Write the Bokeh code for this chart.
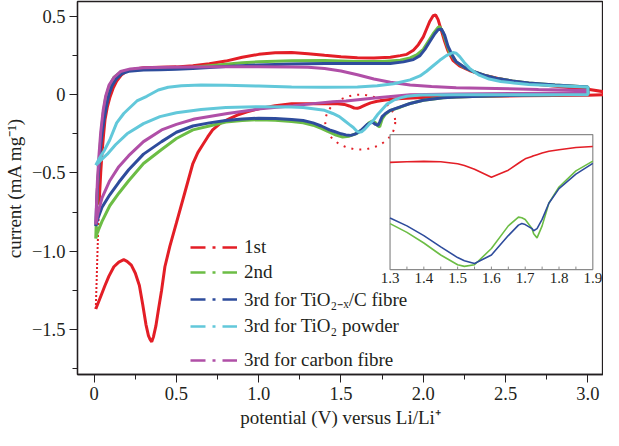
from bokeh.plotting import figure
from bokeh.models import (Range1d, SingleIntervalTicker, CustomJSTickFormatter,
                          Legend, LegendItem)
from bokeh.core.properties import value
from bokeh.embed import file_html
from bokeh.resources import INLINE

# ---------------- data (potential V, current mA mg^-1) ----------------
series_names = ["1st", "2nd", "3rd for TiO\u2082\u208b\u2093/C fibre",
                "3rd for TiO\u2082 powder", "3rd for carbon fibre"]

# 1st cycle
red_up_v = [0.03, 0.04, 0.048, 0.057, 0.066, 0.08, 0.095, 0.115, 0.137, 0.165, 0.196, 0.25, 0.3, 0.4,
            0.5, 0.6, 0.7, 0.8, 0.9, 1.0, 1.1, 1.2, 1.3, 1.4, 1.5, 1.6, 1.7, 1.8, 1.86, 1.9, 1.94,
            1.97, 2.0, 2.02, 2.04, 2.06, 2.075, 2.09, 2.11, 2.13, 2.15, 2.18, 2.22, 2.28, 2.35,
            2.45, 2.55, 2.7, 2.85, 3.0, 3.12]
red_up_i = [-0.7, -0.5, -0.37, -0.26, -0.16, -0.08, -0.02, 0.04, 0.087, 0.125, 0.149, 0.165, 0.172, 0.175,
            0.178, 0.185, 0.198, 0.215, 0.24, 0.258, 0.268, 0.27, 0.262, 0.252, 0.243, 0.237, 0.235, 0.24,
            0.25, 0.258, 0.285, 0.32, 0.37, 0.42, 0.47, 0.505, 0.51, 0.48, 0.41, 0.34, 0.28, 0.22, 0.185,
            0.155, 0.13, 0.105, 0.085, 0.065, 0.05, 0.035, 0.015]
red_down_v = [3.12, 3.0, 2.8, 2.6, 2.4, 2.2, 2.0, 1.9, 1.82, 1.76, 1.72, 1.68, 1.65, 1.62, 1.6, 1.58,
              1.55, 1.52, 1.48, 1.4, 1.3, 1.2, 1.1, 1.0, 0.93, 0.87, 0.82, 0.77, 0.72, 0.69, 0.66,
              0.63, 0.6, 0.55, 0.5, 0.46, 0.43, 0.41, 0.39, 0.375, 0.36, 0.35, 0.34, 0.33, 0.315,
              0.295, 0.275, 0.25, 0.226, 0.2, 0.18, 0.15, 0.12, 0.09, 0.066, 0.04, 0.01]
red_down_i = [0.0, -0.003, -0.005, -0.007, -0.01, -0.013, -0.018, -0.022, -0.028, -0.035, -0.042, -0.052,
              -0.065, -0.08, -0.087, -0.085, -0.072, -0.062, -0.058, -0.057, -0.057, -0.058, -0.07, -0.09,
              -0.11, -0.13, -0.155, -0.18, -0.225, -0.27, -0.32, -0.37, -0.44, -0.63, -0.82, -0.97,
              -1.1, -1.25, -1.38, -1.48, -1.55, -1.58, -1.565, -1.54, -1.47, -1.34, -1.22, -1.14,
              -1.09, -1.065, -1.055, -1.07, -1.1, -1.16, -1.22, -1.29, -1.37]
red_dot_v = [0.01, 0.015, 0.02, 0.025, 0.03]
red_dot_i = [-1.37, -1.2, -1.02, -0.86, -0.7]

# 2nd cycle
green_up_v = [0.01, 0.015, 0.02, 0.03, 0.04, 0.055, 0.07, 0.09, 0.12, 0.16, 0.22, 0.3, 0.4, 0.5, 0.6,
              0.7, 0.8, 0.9, 1.0, 1.2, 1.4, 1.6, 1.75, 1.86, 1.92, 1.96, 2.0, 2.03, 2.06, 2.09, 2.1,
              2.12, 2.14, 2.16, 2.2, 2.24, 2.3, 2.37, 2.44, 2.54, 2.64, 2.8, 3.0]
green_up_i = [-0.92, -0.75, -0.6, -0.42, -0.28, -0.12, -0.02, 0.05, 0.11, 0.145, 0.158, 0.163, 0.165,
              0.168, 0.175, 0.185, 0.195, 0.205, 0.21, 0.217, 0.218, 0.212, 0.213, 0.22, 0.235, 0.255,
              0.29, 0.34, 0.39, 0.43, 0.435, 0.4, 0.33, 0.27, 0.21, 0.18, 0.15, 0.125, 0.105, 0.088,
              0.075, 0.062, 0.05]
green_down_v = [3.0, 2.8, 2.6, 2.4, 2.2, 2.12, 2.0, 1.92, 1.86, 1.8, 1.77, 1.75, 1.735, 1.725, 1.71,
                1.69, 1.67, 1.64, 1.6, 1.55, 1.51, 1.47, 1.43, 1.38, 1.33, 1.27, 1.2, 1.1, 1.0, 0.9,
                0.8, 0.7, 0.6, 0.5, 0.41, 0.3, 0.21, 0.15, 0.095, 0.048, 0.02, 0.01]
green_down_i = [0.005, 0.0, -0.004, -0.008, -0.015, -0.02, -0.035, -0.056, -0.08, -0.1, -0.125, -0.155,
                -0.205, -0.2, -0.18, -0.168, -0.18, -0.215, -0.245, -0.265, -0.27, -0.258, -0.24, -0.215,
                -0.195, -0.18, -0.172, -0.163, -0.16, -0.165, -0.175, -0.2, -0.225, -0.28, -0.35, -0.44,
                -0.55, -0.63, -0.71, -0.81, -0.88, -0.92]

# 3rd cycle, TiO2-x/C fibre
blue_up_v = [0.01, 0.015, 0.02, 0.028, 0.036, 0.047, 0.06, 0.075, 0.09, 0.11, 0.137, 0.17, 0.21, 0.3,
             0.4, 0.5, 0.6, 0.8, 1.0, 1.2, 1.4, 1.6, 1.8, 1.88, 1.94, 1.98, 2.01, 2.04, 2.07, 2.09,
             2.11, 2.13, 2.15, 2.18, 2.2, 2.25, 2.3, 2.37, 2.44, 2.54, 2.64, 2.8, 3.0]
blue_up_i = [-0.84, -0.7, -0.6, -0.48, -0.37, -0.26, -0.16, -0.07, 0.0, 0.06, 0.105, 0.135, 0.15, 0.158,
             0.16, 0.163, 0.168, 0.18, 0.19, 0.197, 0.2, 0.2, 0.2, 0.21, 0.225, 0.25, 0.29, 0.34, 0.39,
             0.415, 0.42, 0.38, 0.31, 0.245, 0.21, 0.175, 0.15, 0.125, 0.105, 0.088, 0.075, 0.062, 0.05]
blue_down_v = [3.0, 2.8, 2.6, 2.4, 2.2, 2.12, 2.0, 1.92, 1.86, 1.8, 1.77, 1.75, 1.735, 1.725, 1.71,
               1.69, 1.66, 1.625, 1.59, 1.56, 1.53, 1.5, 1.46, 1.43, 1.38, 1.33, 1.27, 1.2, 1.1, 1.0,
               0.9, 0.8, 0.7, 0.6, 0.5, 0.41, 0.3, 0.21, 0.15, 0.095, 0.048, 0.02, 0.01]
blue_down_i = [0.005, 0.0, -0.004, -0.008, -0.015, -0.02, -0.035, -0.056, -0.078, -0.1, -0.12, -0.14,
               -0.175, -0.195, -0.19, -0.175, -0.19, -0.225, -0.25, -0.26, -0.257, -0.25, -0.235, -0.225,
               -0.2, -0.18, -0.165, -0.158, -0.152, -0.15, -0.155, -0.165, -0.18, -0.2, -0.24, -0.3,
               -0.38, -0.48, -0.56, -0.64, -0.72, -0.8, -0.84]

# 3rd cycle, TiO2 powder
cyan_up_v = [0.01, 0.03, 0.06, 0.095, 0.137, 0.18, 0.21, 0.26, 0.32, 0.39, 0.45, 0.53, 0.65, 0.8, 1.0,
             1.2, 1.4, 1.6, 1.72, 1.82, 1.92, 1.98, 2.02, 2.06, 2.1, 2.14, 2.18, 2.2, 2.22, 2.25, 2.28,
             2.31, 2.34, 2.4, 2.47, 2.55, 2.64, 2.8, 3.0]
cyan_up_i = [-0.45, -0.41, -0.36, -0.29, -0.18, -0.12, -0.09, -0.04, -0.01, 0.03, 0.048, 0.058, 0.062,
             0.06, 0.055, 0.05, 0.048, 0.05, 0.058, 0.07, 0.095, 0.12, 0.15, 0.185, 0.22, 0.25, 0.27,
             0.265, 0.245, 0.205, 0.17, 0.145, 0.125, 0.1, 0.085, 0.075, 0.066, 0.057, 0.05]
cyan_down_v = [3.0, 2.6, 2.2, 1.98, 1.9, 1.86, 1.82, 1.78, 1.75, 1.72, 1.7, 1.67, 1.645, 1.625, 1.61,
               1.595, 1.575, 1.55, 1.52, 1.49, 1.45, 1.4, 1.33, 1.27, 1.2, 1.0, 0.8, 0.65, 0.5, 0.4,
               0.3, 0.2, 0.13, 0.08, 0.04, 0.01]
cyan_down_i = [0.0, 0.0, 0.0, -0.002, -0.01, -0.02, -0.035, -0.06, -0.095, -0.13, -0.16, -0.19, -0.22,
               -0.237, -0.24, -0.232, -0.21, -0.19, -0.165, -0.14, -0.12, -0.1, -0.09, -0.082, -0.078,
               -0.077, -0.082, -0.095, -0.115, -0.14, -0.185, -0.25, -0.32, -0.38, -0.42, -0.45]

# 3rd cycle, carbon fibre
purple_up_v = [0.01, 0.015, 0.02, 0.03, 0.04, 0.055, 0.07, 0.09, 0.12, 0.16, 0.22, 0.3, 0.45, 0.6, 0.8,
               1.0, 1.2, 1.3, 1.4, 1.5, 1.6, 1.7, 1.8, 1.92, 2.05, 2.2, 2.44, 2.7, 3.0]
purple_up_i = [-0.83, -0.68, -0.55, -0.38, -0.24, -0.1, -0.01, 0.06, 0.11, 0.148, 0.165, 0.172, 0.175,
               0.177, 0.178, 0.178, 0.177, 0.175, 0.168, 0.152, 0.128, 0.1, 0.08, 0.062, 0.052, 0.045,
               0.04, 0.033, 0.027]
purple_down_v = [3.0, 2.6, 2.2, 1.92, 1.72, 1.53, 1.45, 1.33, 1.21, 1.01, 0.81, 0.61, 0.5, 0.41, 0.3,
                 0.21, 0.15, 0.095, 0.048, 0.02, 0.01]
purple_down_i = [0.012, 0.008, 0.005, 0.0, -0.02, -0.04, -0.045, -0.057, -0.07, -0.09, -0.12, -0.155,
                 -0.19, -0.225, -0.3, -0.39, -0.46, -0.55, -0.66, -0.77, -0.83]

# inset (cathodic sweeps, 1.3-1.9 V)
inset_v = [1.3, 1.35, 1.4, 1.45, 1.5, 1.52, 1.55, 1.6, 1.65, 1.68, 1.69, 1.7, 1.72, 1.725, 1.735, 1.75,
           1.77, 1.8, 1.85, 1.9]
inset_red_i = [-0.0605, -0.0595, -0.0588, -0.0594, -0.0628, -0.066, -0.0724, -0.0865, -0.0741, -0.062,
               -0.058, -0.0543, -0.050, -0.049, -0.047, -0.0441, -0.041, -0.0385, -0.0345, -0.0328]
inset_green_i = [-0.1673, -0.1826, -0.2012, -0.2221, -0.2391, -0.2419, -0.2391, -0.2108, -0.1713,
                 -0.1560, -0.1570, -0.1600, -0.1760, -0.1850, -0.1922, -0.1713, -0.1317, -0.1035,
                 -0.0752, -0.0583]
inset_blue_i = [-0.1577, -0.1713, -0.1882, -0.2080, -0.2266, -0.2320, -0.2368, -0.2221, -0.1882,
                -0.1700, -0.1673, -0.1690, -0.1760, -0.1797, -0.1760, -0.1600, -0.1317, -0.1063,
                -0.0809, -0.0622]
inset_ticks = [1.3, 1.4, 1.5, 1.6, 1.7, 1.8, 1.9]
inset_minor = [1.35, 1.4, 1.45, 1.5, 1.55, 1.6, 1.65, 1.7, 1.75, 1.8, 1.85]

# ---------------- styling / layout constants ----------------
RED, GREEN, BLUE, CYAN, PURPLE = "#e31e26", "#6cbd45", "#2e4c9c", "#62c8da", "#b04fa7"
INK = "#231f20"
FONT = "Liberation Serif"
FS_TICK = "18.5px"
FS_LABEL = "19px"
FS_LEG = "19px"

p = figure(width=603, height=430, output_backend="svg", toolbar_location=None,
           x_range=Range1d(-0.101, 3.095), y_range=Range1d(-1.789, 0.596),
           min_border_left=70, min_border_right=0, min_border_top=1, min_border_bottom=50)
p.grid.visible = False
p.outline_line_color = INK
p.outline_line_width = 1.3

fmt = CustomJSTickFormatter(code="""
if (Math.abs(tick) < 1e-9) return "0";
return tick.toFixed(1).replace("-", "\u2212");
""")
for ax, lab in ((p.xaxis[0], "potential (V) versus Li/Li\u207a"),
                (p.yaxis[0], "current (mA mg\u207b\u00b9)")):
    ax.ticker = SingleIntervalTicker(interval=0.5, num_minor_ticks=2)
    ax.formatter = fmt
    ax.axis_label = lab
    ax.axis_label_text_font = FONT
    ax.axis_label_text_font_style = "normal"
    ax.axis_label_text_font_size = FS_LABEL
    ax.axis_label_text_color = INK
    ax.major_label_text_font = FONT
    ax.major_label_text_font_size = FS_TICK
    ax.major_label_text_color = INK
    ax.axis_line_color = INK
    ax.axis_line_width = 1.3
    ax.major_tick_line_color = INK
    ax.minor_tick_line_color = INK
    ax.major_tick_in = 0
    ax.major_tick_out = 8
    ax.minor_tick_in = 0
    ax.minor_tick_out = 5
    ax.major_label_standoff = 4
    ax.axis_label_standoff = 4

# dotted ellipse highlighting the reduction peaks
ell_x, ell_y, ell_w, ell_h = 1.617, -0.175, 0.425, 0.35
p.ellipse(x=[ell_x], y=[ell_y], width=[ell_w], height=[ell_h], fill_alpha=0,
          line_color=RED, line_width=2, line_dash="2 6")

LW = 3
p.line(red_dot_v, red_dot_i, line_color=RED, line_width=2, line_dash="2 2")
p.line(red_up_v + red_down_v, red_up_i + red_down_i, line_color=RED, line_width=LW)
p.line(green_up_v + green_down_v, green_up_i + green_down_i, line_color=GREEN, line_width=LW)
p.line(blue_up_v + blue_down_v, blue_up_i + blue_down_i, line_color=BLUE, line_width=LW)
p.line(purple_up_v + purple_down_v, purple_up_i + purple_down_i, line_color=PURPLE, line_width=LW)
p.line(cyan_up_v + cyan_down_v, cyan_up_i + cyan_down_i, line_color=CYAN, line_width=LW)

# legend (dash-dot-dash samples); proxies hold NaN so nothing is drawn in the plot
colors = [RED, GREEN, BLUE, CYAN, PURPLE]
nan = float("nan")
dummies = [p.line(x=[nan, nan], y=[nan, nan], line_color=c, line_width=2.5, line_dash="15 7 3 7")
           for c in colors]
items = [LegendItem(label=n, renderers=[r]) for n, r in zip(series_names, dummies)]


def make_legend(its, loc, spacing):
    return Legend(items=its, location=loc, padding=0, margin=0, spacing=spacing,
                  glyph_width=47, glyph_height=20, label_height=20, label_standoff=7,
                  label_text_font=FONT, label_text_font_size=FS_LEG, label_text_color=INK,
                  background_fill_alpha=0, border_line_alpha=0)


p.add_layout(make_legend(items[:4], (113, 37), 3))
p.add_layout(make_legend(items[4:], (113, 3), 0))

# inset
ins_x_src, ins_y_src = Range1d(1.3, 1.9), Range1d(-0.2475, -0.0119)
ins_x_tgt, ins_y_tgt = Range1d(1.798, 3.03), Range1d(-1.118, -0.2547)
sub = p.subplot(x_source=ins_x_src, y_source=ins_y_src, x_target=ins_x_tgt, y_target=ins_y_tgt)
sub.quad(left=[ins_x_src.start], right=[ins_x_src.end], bottom=[ins_y_src.start], top=[ins_y_src.end],
         fill_color="white", line_color="#8a8a8a", line_width=1.2)
sub.line(inset_v, inset_red_i, line_color=RED, line_width=1.6)
sub.line(inset_v, inset_green_i, line_color=GREEN, line_width=1.6)
sub.line(inset_v, inset_blue_i, line_color=BLUE, line_width=1.6)
tick_len = (ins_y_src.end - ins_y_src.start) * 0.022
sub.segment(x0=inset_minor, x1=inset_minor, y0=[ins_y_src.start] * len(inset_minor),
            y1=[ins_y_src.start + tick_len] * len(inset_minor), line_color="#8a8a8a", line_width=1)
sub.text(x=inset_ticks, y=[ins_y_src.start] * len(inset_ticks), text=[f"{t:.1f}" for t in inset_ticks],
         text_align="center", text_baseline="top", y_offset=3, text_font=value(FONT),
         text_font_size="15px", text_color=INK)

open("out.html", "w").write(file_html(p, INLINE))
